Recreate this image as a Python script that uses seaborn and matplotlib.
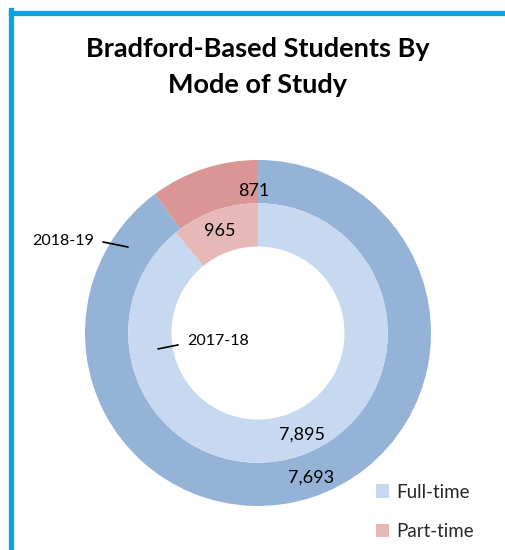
import numpy as np
import matplotlib
matplotlib.use("Agg")
import matplotlib.pyplot as plt
import seaborn as sns
from matplotlib.patches import Patch
from matplotlib.lines import Line2D

sns.set_theme(style="white")
plt.rcParams["font.family"] = ["Lato", "DejaVu Sans"]

modes = ["Full-time", "Part-time"]
years = ["2017-18", "2018-19"]
students_2017_18 = [7895, 965]
students_2018_19 = [7693, 871]

outer_colors = ["#95b3d7", "#d99694"]
inner_colors = ["#c6d9f1", "#e6b9b8"]

W, H, DPI = 505, 550, 100
fig = plt.figure(figsize=(W / DPI, H / DPI), dpi=DPI)
fig.patch.set_facecolor("white")

# chart area: pie centred at (258, 333) px, outer radius 173 px
cx, cy, R = 258, 333, 173
ax = fig.add_axes([(cx - R) / W, (H - cy - R) / H, 2 * R / W, 2 * R / H])
ax.axis("off")

ring_w = 0.25
ax.pie(students_2018_19, radius=1.0, colors=outer_colors, startangle=90,
       counterclock=False, wedgeprops=dict(width=ring_w, linewidth=0))
ax.pie(students_2017_18, radius=1.0 - ring_w, colors=inner_colors, startangle=90,
       counterclock=False, wedgeprops=dict(width=ring_w, linewidth=0))
ax.set_xlim(-1, 1)
ax.set_ylim(-1, 1)
ax.set_aspect("auto")

fs = 13
fmt = lambda v: f"{v:,}"
ax.text(-0.023, 0.818, fmt(students_2018_19[1]), ha="center", va="center", fontsize=fs, color="black")
ax.text(-0.22, 0.59, fmt(students_2017_18[1]), ha="center", va="center", fontsize=fs, color="black")
ax.text(0.254, -0.59, fmt(students_2017_18[0]), ha="center", va="center", fontsize=fs, color="black")
ax.text(0.306, -0.838, fmt(students_2018_19[0]), ha="center", va="center", fontsize=fs, color="black")

# series name callouts
ax.text(-0.945, 0.532, years[1], ha="right", va="center", fontsize=11.5, color="black", clip_on=False)
ax.plot([-0.896, -0.751], [0.526, 0.497], color="black", lw=1.2, clip_on=False)
ax.text(-0.23, -0.046, years[0], ha="center", va="center", fontsize=11.5, color="black")
ax.plot([-0.578, -0.462], [-0.092, -0.069], color="black", lw=1.2)

fig.text(258 / W, 1 - 67 / H, "Bradford-Based Students By\nMode of Study",
         ha="center", va="center", fontsize=19.5, fontweight="bold",
         linespacing=1.6, color="black")

handles = [Patch(facecolor=c, edgecolor="none", label=m) for c, m in zip(inner_colors, modes)]
fig.legend(handles=handles, loc="upper left", bbox_to_anchor=(368 / W, 1 - 476 / H),
           frameon=False, fontsize=13.5, handlelength=0.7, handleheight=0.7,
           handletextpad=0.4, labelspacing=1.2, borderaxespad=0)

# frame border on the top and left
blue = "#0aa3e2"
fig.add_artist(Line2D([10.5 / W, 10.5 / W], [0, 1 - 10 / H], color=blue, lw=3.8,
                      transform=fig.transFigure, solid_capstyle="projecting"))
fig.add_artist(Line2D([10.5 / W, 1], [1 - 12.5 / H, 1 - 12.5 / H], color=blue, lw=3.8,
                      transform=fig.transFigure, solid_capstyle="projecting"))

fig.savefig("out.png", dpi=DPI, facecolor="white")
